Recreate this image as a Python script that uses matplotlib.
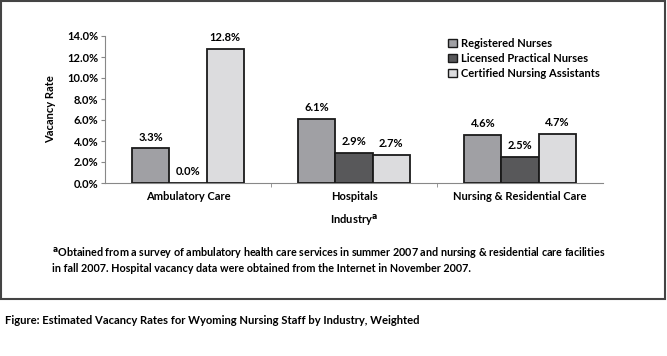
import matplotlib
matplotlib.use('Agg')
import matplotlib.pyplot as plt
import matplotlib.patches as mpatches
import numpy as np

plt.rcParams['font.family'] = ['Lato', 'DejaVu Sans']
plt.rcParams['font.weight'] = 'bold'

industries = ['Ambulatory Care', 'Hospitals', 'Nursing & Residential Care']
series = ['Registered Nurses', 'Licensed Practical Nurses', 'Certified Nursing Assistants']
rn = [3.3, 6.1, 4.6]
lpn = [0.0, 2.9, 2.5]
cna = [12.8, 2.7, 4.7]
colors = ['#a0a0a4', '#58585a', '#dcdcde']
yticks = [0, 2, 4, 6, 8, 10, 12, 14]

W, H = 667, 356
fig = plt.figure(figsize=(W / 100, H / 100), dpi=100)

# outer frame
fig.patches.append(mpatches.Rectangle((1 / W, 1 - 299 / H), 664 / W, 298 / H,
                                      transform=fig.transFigure, fill=False,
                                      edgecolor='#444444', linewidth=1.5))

ax = fig.add_axes([105 / W, 1 - 183 / H, 498 / W, 147 / H])
x = np.arange(len(industries))
bw = 0.223
for k, (vals, c, name) in enumerate(zip([rn, lpn, cna], colors, series)):
    pos = x + (k - 1) * bw
    ax.bar(pos, vals, width=bw, color=c, edgecolor='#1a1a1a', linewidth=1.3,
           label=name, zorder=3)
    for p, v in zip(pos, vals):
        ax.annotate('%.1f%%' % v, (p, v), xytext=(0, 4), textcoords='offset points',
                    ha='center', va='bottom', fontsize=8, fontweight='bold')

ax.set_xlim(-0.5, 2.5)
ax.set_ylim(0, 14)
ax.set_yticks(yticks)
ax.set_yticklabels(['%.1f%%' % t for t in yticks], fontsize=8)
ax.set_xticks(x)
ax.set_xticklabels(industries, fontsize=8)
ax.tick_params(axis='x', length=0, pad=6)
ax.set_xticks([0.5, 1.5], minor=True)
ax.tick_params(axis='x', which='minor', length=3, color='#888888')
ax.tick_params(axis='y', length=3, color='#888888', pad=2)
for s in ['top', 'right']:
    ax.spines[s].set_visible(False)
for s in ['left', 'bottom']:
    ax.spines[s].set_color('#888888')
    ax.spines[s].set_linewidth(0.8)

ax.set_ylabel('Vacancy Rate', fontsize=8, fontweight='bold', labelpad=8)
fig.text(354 / W, 1 - 220 / H, 'Industry$^{\\mathbf{a}}$', ha='center', va='center',
         fontsize=8, fontweight='bold')

handles = [mpatches.Patch(facecolor=c, edgecolor='#1a1a1a', linewidth=1.0) for c in colors]
fig.legend(handles, series, loc='upper left', bbox_to_anchor=(448 / W, 1 - 38 / H),
           frameon=False, fontsize=8, handlelength=0.8, handleheight=0.8,
           handletextpad=0.4, labelspacing=0.35, borderaxespad=0, borderpad=0)

fig.text(52 / W, 1 - 253 / H,
         '$^{\\mathbf{a}}$Obtained from a survey of ambulatory health care services in summer 2007 '
         'and nursing & residential care facilities', fontsize=7.75, va='center', fontweight='bold')
fig.text(52 / W, 1 - 268 / H,
         'in fall 2007. Hospital vacancy data were obtained from the Internet in November 2007.',
         fontsize=7.75, va='center', fontweight='bold')
fig.text(5 / W, 1 - 321 / H,
         'Figure: Estimated Vacancy Rates for Wyoming Nursing Staff by Industry, Weighted',
         fontsize=8.1, va='center', fontweight='bold')

fig.savefig('out.png', dpi=100)
